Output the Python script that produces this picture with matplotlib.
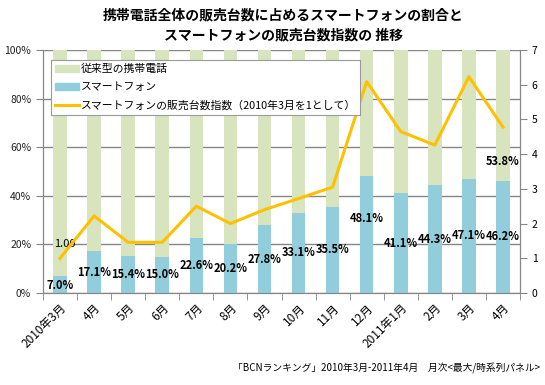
import numpy as np
import matplotlib.pyplot as plt
from matplotlib.patches import Patch
from matplotlib.lines import Line2D
from matplotlib.ticker import FixedLocator

plt.rcParams['font.family'] = ['Noto Sans CJK JP', 'DejaVu Sans']

# data
months = ['2010年3月', '4月', '5月', '6月', '7月', '8月', '9月', '10月', '11月', '12月',
          '2011年1月', '2月', '3月', '4月']
smart = [7.0, 17.1, 15.4, 15.0, 22.6, 20.2, 27.8, 33.1, 35.5, 48.1, 41.1, 44.3, 47.1, 46.2]
feature = [100 - v for v in smart]
index = [1.00, 2.22, 1.46, 1.46, 2.50, 2.00, 2.40, 2.72, 3.05, 6.09, 4.65, 4.26, 6.23, 4.78]

c_feat = '#D7E4BD'
c_smart = '#92CDDC'
c_line = '#FFC000'
c_grid = '#868686'

fig = plt.figure(figsize=(5.45, 3.85), dpi=100)
ax = fig.add_axes([43/545, 1 - 293/385, 477/545, 243/385])
x = np.arange(len(months))

ax.bar(x, smart, width=0.4, color=c_smart, zorder=2)
ax.bar(x, feature, width=0.4, bottom=smart, color=c_feat, zorder=2)

ax.set_xlim(-0.5, len(months) - 0.5)
ax.set_ylim(0, 100)
ax.set_yticks(range(0, 101, 20))
ax.set_yticklabels([f'{v}%' for v in range(0, 101, 20)], fontsize=7.5, color='#222222')
ax.yaxis.grid(True, color=c_grid, lw=1, zorder=0)
ax.set_axisbelow(True)

ax.set_xticks(x)
ax.set_xticklabels(months, rotation=45, ha='right', va='top', rotation_mode='anchor', fontsize=8.5)
ax.tick_params(axis='x', which='major', length=0, pad=6)
ax.xaxis.set_minor_locator(FixedLocator(np.arange(-0.5, len(months), 1)))
ax.tick_params(axis='x', which='minor', length=5, color=c_grid, direction='out')
ax.tick_params(axis='y', length=5, color=c_grid)
for s in ['left', 'right', 'bottom']:
    ax.spines[s].set_color(c_grid)
ax.spines['top'].set_visible(False)

# smartphone share labels
for i, v in enumerate(smart):
    yy = v / 2
    if i == 0:
        yy = 3
    if i == 9:
        yy = 30.5
    ax.text(i, yy, f'{v:.1f}%', ha='center', va='center', fontsize=8, color='black',
            fontweight='bold', zorder=5)
ax.text(13, 54, f'{feature[-1]:.1f}%', ha='center', va='center', fontsize=8,
        color='black', fontweight='bold', zorder=5)

ax2 = ax.twinx()
ax2.plot(x, index, color=c_line, lw=2.2, zorder=4)
ax2.set_ylim(0, 7)
ax2.set_yticks(range(0, 8))
ax2.tick_params(axis='y', length=5, color=c_grid, labelsize=7.5)
for s in ['left', 'right', 'bottom']:
    ax2.spines[s].set_color(c_grid)
ax2.spines['top'].set_visible(False)
ax2.text(0.15, index[0] + 0.4, f'{index[0]:.2f}', ha='center', va='center', fontsize=8)

handles = [Patch(color=c_feat), Patch(color=c_smart), Line2D([], [], color=c_line, lw=2.2)]
labels = ['従来型の携帯電話', 'スマートフォン', 'スマートフォンの販売台数指数（2010年3月を1として）']
leg = ax2.legend(handles, labels, loc='upper left', bbox_to_anchor=(8/477, 1 - 10/243),
                 fontsize=7.8, frameon=True, fancybox=False, edgecolor='#999999',
                 framealpha=1, borderaxespad=0, handlelength=2.2, handleheight=0.6,
                 labelspacing=0.75, borderpad=0.35, handletextpad=0.2)
leg.get_frame().set_linewidth(0.8)

fig.text(283/545, 1 - 15/385, '携帯電話全体の販売台数に占めるスマートフォンの割合と',
         ha='center', va='center', fontsize=10, fontweight='bold')
fig.text(283/545, 1 - 35/385, 'スマートフォンの販売台数指数の 推移',
         ha='center', va='center', fontsize=10, fontweight='bold')
fig.text(540/545, 1 - 368/385, '「BCNランキング」2010年3月-2011年4月　月次<最大/時系列パネル>',
         ha='right', va='center', fontsize=7)

fig.savefig('out.png', dpi=100)
